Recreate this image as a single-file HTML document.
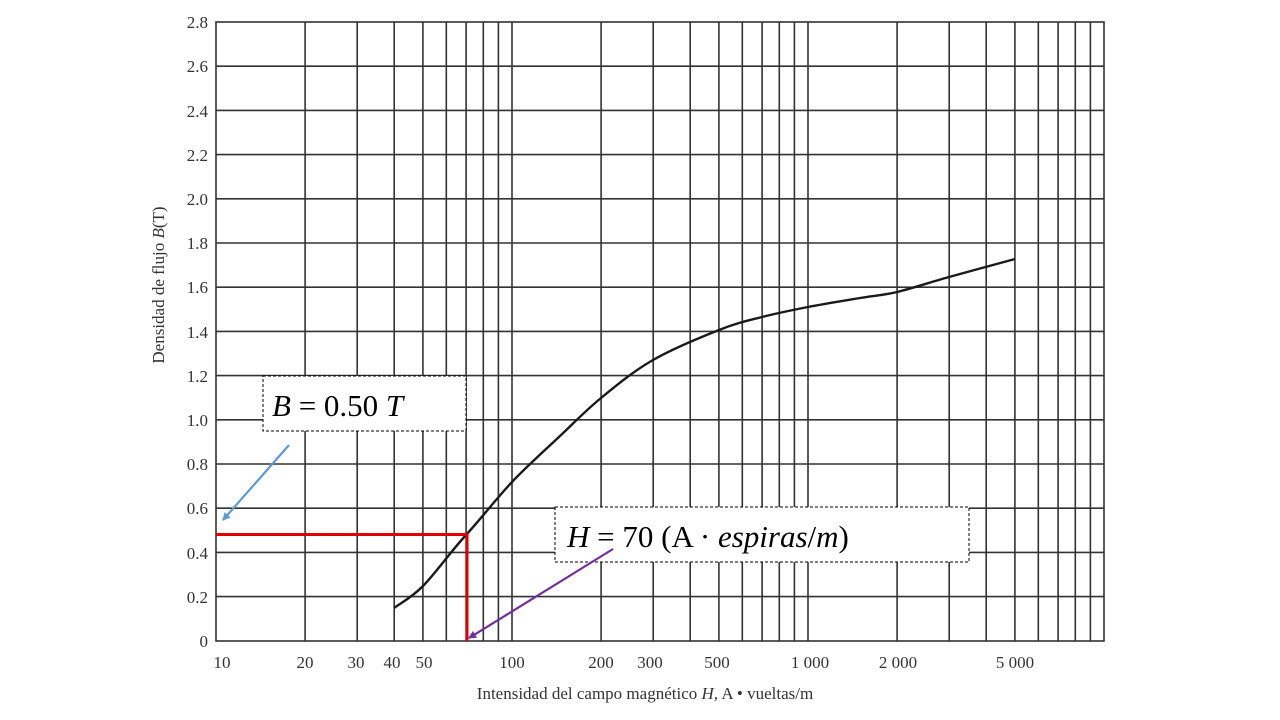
<!DOCTYPE html>
<html><head><meta charset="utf-8"><style>
body{margin:0;background:#fff;}
svg{display:block;}
</style></head><body>
<svg width="1280" height="720" xmlns="http://www.w3.org/2000/svg" font-family="Liberation Serif, serif">
<defs>
<marker id="ab" markerWidth="8" markerHeight="8" refX="7" refY="4" orient="auto" markerUnits="userSpaceOnUse"><path d="M0,0 L8,4 L0,8 Z" fill="#5b9bd5"/></marker>
<marker id="ap" markerWidth="8" markerHeight="8" refX="7" refY="4" orient="auto" markerUnits="userSpaceOnUse"><path d="M0,0 L8,4 L0,8 Z" fill="#7030a0"/></marker>
</defs>
<g stroke="#333" stroke-width="1.6" fill="none">
<rect x="216" y="22" width="888" height="619"/>
<path d="M216 66.2H1104M216 110.4H1104M216 154.6H1104M216 198.8H1104M216 243H1104M216 287.2H1104M216 331.4H1104M216 375.6H1104M216 419.8H1104M216 464H1104M216 508.2H1104M216 552.4H1104M216 596.6H1104"/>
<path d="M305.1 22V641M357.2 22V641M394.2 22V641M422.9 22V641M446.3 22V641M466.1 22V641M483.3 22V641M498.4 22V641M512 22V641
M601.1 22V641M653.2 22V641M690.2 22V641M718.9 22V641M742.3 22V641M762.1 22V641M779.3 22V641M794.4 22V641M808 22V641
M897.1 22V641M949.2 22V641M986.2 22V641M1014.9 22V641M1038.3 22V641M1058.1 22V641M1075.3 22V641M1090.4 22V641"/>
</g>
<path d="M394 608 C398.8 604.3,411 598.2,423 586 C435 573.8,451.2 551,466 535 C480.8 519,496.3 498.5,512 482 C527.7 465.5,545.2 450,560 436 C574.8 422,585.5 410.7,601 398 C616.5 385.3,633.3 371.3,653 360 C672.7 348.7,700.8 337.2,719 330 C737.2 322.8,747.2 320.8,762 317 C776.8 313.2,791.7 310.2,808 307 C824.3 303.8,845.2 300.5,860 298 C874.8 295.5,882.2 295.5,897 292 C911.8 288.5,929.3 282.5,949 277 C968.7 271.5,1004 262,1015 259" fill="none" stroke="#1a1a1a" stroke-width="2.4"/>
<path d="M216 534.5H467V641" fill="none" stroke="#e00000" stroke-width="3"/>
<g font-size="17" fill="#333" text-anchor="end">
<text x="208" y="647">0</text><text x="208" y="603">0.2</text><text x="208" y="559">0.4</text><text x="208" y="514">0.6</text><text x="208" y="470">0.8</text><text x="208" y="426">1.0</text><text x="208" y="382">1.2</text><text x="208" y="338">1.4</text><text x="208" y="293">1.6</text><text x="208" y="249">1.8</text><text x="208" y="205">2.0</text><text x="208" y="161">2.2</text><text x="208" y="117">2.4</text><text x="208" y="72">2.6</text><text x="208" y="28">2.8</text>
</g>
<g font-size="17" fill="#333" text-anchor="middle">
<text x="222" y="668">10</text><text x="305" y="668">20</text><text x="356" y="668">30</text><text x="392" y="668">40</text><text x="424" y="668">50</text><text x="512" y="668">100</text><text x="601" y="668">200</text><text x="650" y="668">300</text><text x="717" y="668">500</text><text x="810" y="668">1 000</text><text x="898" y="668">2 000</text><text x="1015" y="668">5 000</text>
<text x="645" y="699">Intensidad del campo magnético <tspan font-style="italic">H,</tspan>  A • vueltas/m</text>
<text transform="translate(164,285) rotate(-90)">Densidad de flujo <tspan font-style="italic">B</tspan>(T)</text>
</g>
<rect x="263" y="376" width="203" height="55" fill="#fff" stroke="#000" stroke-width="1" stroke-dasharray="3,2"/>
<text x="272" y="416" font-size="31" fill="#000"><tspan font-style="italic">B</tspan> = 0.50 <tspan font-style="italic">T</tspan></text>
<rect x="555" y="507" width="414" height="55" fill="#fff" stroke="#000" stroke-width="1" stroke-dasharray="3,2"/>
<text x="567" y="547" font-size="31" fill="#000"><tspan font-style="italic">H</tspan> = 70 (A · <tspan font-style="italic">espiras</tspan>/<tspan font-style="italic">m</tspan>)</text>
<line x1="289" y1="445" x2="223" y2="520" stroke="#5b9bd5" stroke-width="2.2" marker-end="url(#ab)"/>
<line x1="613" y1="549" x2="469" y2="638" stroke="#7030a0" stroke-width="2.2" marker-end="url(#ap)"/>
</svg>
</body></html>
